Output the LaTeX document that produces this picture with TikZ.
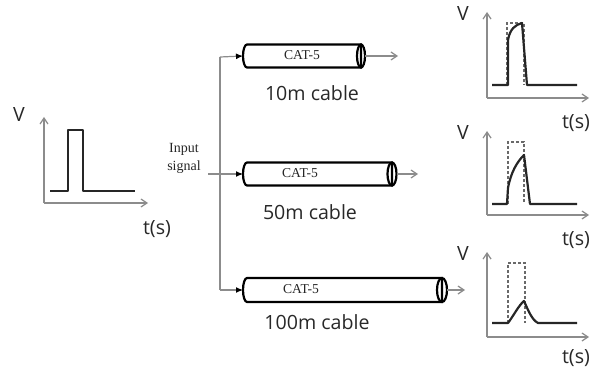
\documentclass[tikz,border=0pt]{standalone}
\usepackage{fontspec}
\setmainfont{Liberation Serif}
\newfontfamily\labfont{Open Sans}
\usetikzlibrary{arrows.meta}
\definecolor{axisgray}{RGB}{140,140,140}
\definecolor{txt}{RGB}{40,40,40}
\definecolor{dashgray}{RGB}{105,105,105}
\begin{document}
\begin{tikzpicture}[x=0.5pt,y=-0.5pt,
  axisline/.style={draw=axisgray,line width=0.6pt,-{Straight Barb[length=3pt,width=4pt]}},
  wire/.style={draw=axisgray,line width=0.6pt},
  inarrow/.style={draw=axisgray,line width=0.6pt,-{Latex[length=3.5pt,width=3pt,color=black]}},
  outarrow/.style={draw=axisgray,line width=0.6pt,-{Straight Barb[length=3pt,width=4pt]}},
  cablebody/.style={draw=black,line width=1.1pt,fill=white},
  pulse/.style={draw=black!85,line width=1.1pt,line join=round},
  ideal/.style={draw=dashgray,line width=1pt,dash pattern=on 1.5pt off 1pt},
  lab/.style={font=\labfont\fontsize{9.8}{12}\selectfont,text=txt,inner sep=0pt},
  cattext/.style={font=\fontsize{6.8}{8}\selectfont,text=black!85,inner sep=0pt},
  intext/.style={font=\fontsize{7}{9}\selectfont,text=black!85,align=center,inner sep=0pt}]
\useasboundingbox (0,0) rectangle (600,374);

% ---------- left input graph ----------
\coordinate (lo) at (44,203);
\coordinate (ly) at (44,117);
\coordinate (lx) at (148,203);
\draw[axisline] (lo) -- (ly);
\draw[axisline] (lo) -- (lx);
\node[lab] (lV) at (19,115) {V};
\node[lab] (lT) at (157,229) {t(s)};
\draw[pulse] (50,191) -- (68,191) -- (68,130) -- (83,130) -- (83,191) -- (135,191);

% ---------- input signal and branching ----------
\node[intext] (inp) at (184,158) {Input\\signal};
\coordinate (isrc) at (208,174);
\coordinate (btop) at (220,57);
\coordinate (bbot) at (220,290);

% ---------- cables ----------
% cable 1
\coordinate (c1l) at (243,56);
\coordinate (c1r) at (365,56);
\path[cablebody] (361,44.5) -- (247,44.5) arc[start angle=270,end angle=90,x radius=4,y radius=11.5] -- (361,67.5) -- cycle;
\draw[line width=1.1pt] (361,56) ellipse[x radius=4,y radius=11.5];
\node[cattext] (cat1) at (302,55) {CAT-5};
\node[lab] (l1) at (312,93) {10m cable};
% cable 2
\coordinate (c2l) at (243,174);
\coordinate (c2r) at (397,174);
\path[cablebody] (392,162.5) -- (247,162.5) arc[start angle=270,end angle=90,x radius=4,y radius=11.5] -- (392,185.5) -- cycle;
\draw[line width=1.1pt] (392,174) ellipse[x radius=4.5,y radius=11.5];
\node[cattext] (cat2) at (300,173) {CAT-5};
\node[lab] (l2) at (310,212) {50m cable};
% cable 3
\coordinate (c3l) at (243,290);
\coordinate (c3r) at (447,290);
\path[cablebody] (442,278) -- (247,278) arc[start angle=270,end angle=90,x radius=4,y radius=12] -- (442,302) -- cycle;
\draw[line width=1.1pt] (442,290) ellipse[x radius=5,y radius=12];
\node[cattext] (cat3) at (301,289) {CAT-5};
\node[lab] (l3) at (317,322) {100m cable};

% connectors
\draw[wire] (btop) -- (bbot);
\draw[inarrow] (btop) -- (c1l);
\draw[inarrow] (isrc) -- (c2l);
\draw[inarrow] (bbot) -- (c3l);
\coordinate (o1) at (398,56);
\coordinate (o2) at (418,174);
\coordinate (o3) at (465,290);
\draw[outarrow] (c1r) -- (o1);
\draw[outarrow] (c2r) -- (o2);
\draw[outarrow] (c3r) -- (o3);

% ---------- output graph 1 ----------
\coordinate (g1o) at (487,98);
\coordinate (g1y) at (487,12);
\coordinate (g1x) at (589,98);
\draw[axisline] (g1o) -- (g1y);
\draw[axisline] (g1o) -- (g1x);
\node[lab] (g1V) at (463,14) {V};
\node[lab] (g1T) at (576,123) {t(s)};
\draw[ideal] (507,85) -- (507,23) -- (524,23) -- (524,85);
\draw[pulse] (492,85) -- (508,85) -- (508,40) .. controls (510,29) and (515,25) .. (522,23) -- (527,85) -- (577,85);

% ---------- output graph 2 ----------
\coordinate (g2o) at (487,215);
\coordinate (g2y) at (487,131);
\coordinate (g2x) at (589,215);
\draw[axisline] (g2o) -- (g2y);
\draw[axisline] (g2o) -- (g2x);
\node[lab] (g2V) at (463,133) {V};
\node[lab] (g2T) at (576,240) {t(s)};
\draw[ideal] (508,204) -- (508,142) -- (524,142) -- (524,204);
\draw[pulse] (492,204) -- (507,204) -- (508,188) .. controls (511,172) and (517,162) .. (524,155) -- (530,204) -- (577,204);

% ---------- output graph 3 ----------
\coordinate (g3o) at (487,337);
\coordinate (g3y) at (487,252);
\coordinate (g3x) at (589,337);
\draw[axisline] (g3o) -- (g3y);
\draw[axisline] (g3o) -- (g3x);
\node[lab] (g3V) at (463,254) {V};
\node[lab] (g3T) at (576,358) {t(s)};
\draw[ideal] (508,323) -- (508,263) -- (525,263) -- (525,323);
\draw[pulse] (492,323) -- (508,323) .. controls (514,315) and (519,305) .. (524,301) .. controls (528,310) and (532,320) .. (538,323) -- (577,323);
\end{tikzpicture}
\end{document}
